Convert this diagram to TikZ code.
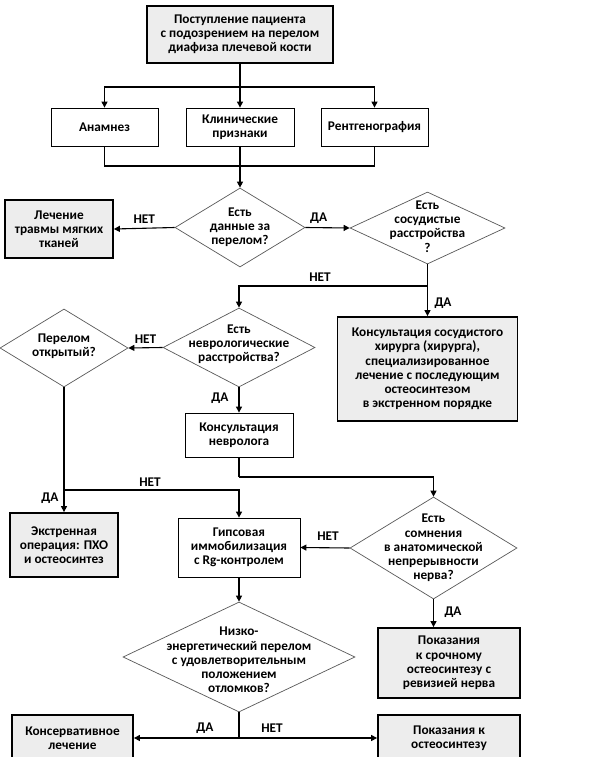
\documentclass[tikz,border=0pt]{standalone}
\usepackage{fontspec}
\setmainfont{Carlito}
\usetikzlibrary{shapes.geometric,arrows.meta}
\begin{document}
\begin{tikzpicture}[x=1pt,y=-1pt,
  every node/.style={font=\fontsize{13.3}{14.2}\selectfont\bfseries, align=center},
  proc/.style={draw=black, line width=0.8pt, fill=white, inner sep=0pt},
  term/.style={draw=black, line width=1.8pt, fill=black!7, inner sep=0pt},
  dec/.style={draw=black!65, line width=0.7pt, fill=white, diamond, inner sep=0pt},
  txt/.style={inner sep=0pt},
  lbl/.style={inner sep=1pt},
  conn/.style={line width=1.1pt},
  arr/.style={conn, -{Triangle[length=6pt,width=6pt]}}
]
\useasboundingbox (0,0) rectangle (595,757);
\clip (0,0) rectangle (595,757);
\fill[white] (0,0) rectangle (595,757);

% boxes
\node[term, minimum width=186pt, minimum height=57pt] (top) at (240,34.5)
  {Поступление пациента\\с подозрением на перелом\\диафиза плечевой кости};
\node[proc, minimum width=107pt, minimum height=38pt] (anam) at (104.5,127) {Анамнез};
\node[proc, minimum width=108pt, minimum height=38pt] (klin) at (240,127) {Клинические\\признаки};
\node[proc, minimum width=107pt, minimum height=38pt] (rent) at (374.5,127) {Рентгенография};

\node[dec, minimum width=130pt, minimum height=79pt] (d1) at (240,227.5) {};
\node[txt] (d1t) at (d1.center) {Есть\\данные за\\перелом?};
\node[term, minimum width=108pt, minimum height=58pt] (lech) at (59,229) {Лечение\\травмы мягких\\тканей};

\node[dec, minimum width=155pt, minimum height=72pt] (d2) at (427.5,228) {};
\node[txt] (d2t) at (427.5,226.5) {Есть\\сосудистые\\расстройства\\?};

\node[term, minimum width=180pt, minimum height=104pt] (vasc) at (427.5,369)
  {Консультация сосудистого\\хирурга (хирурга),\\специализированное\\лечение с последующим\\остеосинтезом\\в экстренном порядке};

\node[dec, minimum width=152pt, minimum height=79pt] (neuro) at (239,347.5) {};
\node[txt] (neurot) at (239,344) {Есть\\неврологические\\расстройства?};

\node[dec, minimum width=128pt, minimum height=78pt] (open) at (64,348) {};
\node[txt] (opent) at (64,346.5) {Перелом\\открытый?};

\node[proc, minimum width=108pt, minimum height=44pt] (konsn) at (239,435) {Консультация\\невролога};

\node[term, minimum width=108pt, minimum height=64pt] (ekstr) at (64,545) {Экстренная\\операция: ПХО\\и остеосинтез};
\node[proc, minimum width=122pt, minimum height=59pt] (gips) at (239,547.5) {Гипсовая\\иммобилизация\\с Rg-контролем};

\node[dec, minimum width=167pt, minimum height=102pt] (d3) at (433.5,548) {};
\node[txt] (d3t) at (433.5,548) {Есть\\сомнения\\в анатомической\\непрерывности\\нерва?};

\node[term, minimum width=142pt, minimum height=70pt] (pok1) at (449,663) {Показания\\к срочному\\остеосинтезу с\\ревизией нерва};

\node[dec, minimum width=232pt, minimum height=110pt] (low) at (239,657) {};
\node[txt] (lowt) at (239,660) {Низко-\\энергетический перелом\\с удовлетворительным\\положением\\отломков?};

\node[term, minimum width=121pt, minimum height=46pt] (kons) at (72.5,738) {Консервативное\\лечение};
\node[term, minimum width=142pt, minimum height=46pt] (pok2) at (449,738) {Показания к\\остеосинтезу};

% connectors
\coordinate (j1) at (240,87);
\draw[conn] (top.south) -- (j1);
\draw[arr] (j1) -| (anam.north);
\draw[arr] (j1) -| (rent.north);
\draw[arr] (j1) -- (klin.north);

\coordinate (j2) at (240,166);
\draw[conn] (anam.south) |- (j2);
\draw[conn] (rent.south) |- (j2);
\draw[conn] (klin.south) -- (j2);
\draw[arr] (j2) -- (d1.north);

\draw[arr] (d1.west) -- (lech.east) node[lbl, midway, above=3pt] (l1) {НЕТ};
\draw[arr] (d1.east) -- (d2.west) node[lbl, pos=0.3, above=3pt] (l2) {ДА};

\coordinate (j3) at (427.5,286);
\draw[conn] (d2.south) -- (j3);
\draw[arr] (j3) -| (neuro.north);
\draw[arr] (j3) -- (vasc.north);
\node[lbl] (l3) at (320,277) {НЕТ};
\node[lbl] (l4) at (443,303) {ДА};

\draw[arr] (neuro.west) -- (open.east) node[lbl, midway, above=3pt] (l5) {НЕТ};
\draw[arr] (neuro.south) -- (konsn.north);
\node[lbl] (l6) at (220,398) {ДА};

\coordinate (j4) at (239,477);
\draw[conn] (konsn.south) -- (j4);
\draw[arr] (j4) -| (d3.north);

\coordinate (j5) at (64,490);
\draw[arr] (open.south) -- (ekstr.north);
\draw[arr] (j5) -| (gips.north);
\node[lbl] (l7) at (150,482) {НЕТ};
\node[lbl] (l8) at (50,498) {ДА};

\draw[arr] (d3.west) -- (gips.east);
\node[lbl] (l9) at (328,536) {НЕТ};
\draw[arr] (d3.south) -- (d3.south |- pok1.north);
\node[lbl] (l10) at (453,612) {ДА};

\draw[arr] (gips.south) -- (low.north);

\coordinate (j6) at (239,738);
\draw[conn] (low.south) -- (j6);
\draw[arr] (j6) -- (kons.east);
\draw[arr] (j6) -- (pok2.west);
\node[lbl] (l11) at (205,728) {ДА};
\node[lbl] (l12) at (272,728) {НЕТ};
\end{tikzpicture}
\end{document}
